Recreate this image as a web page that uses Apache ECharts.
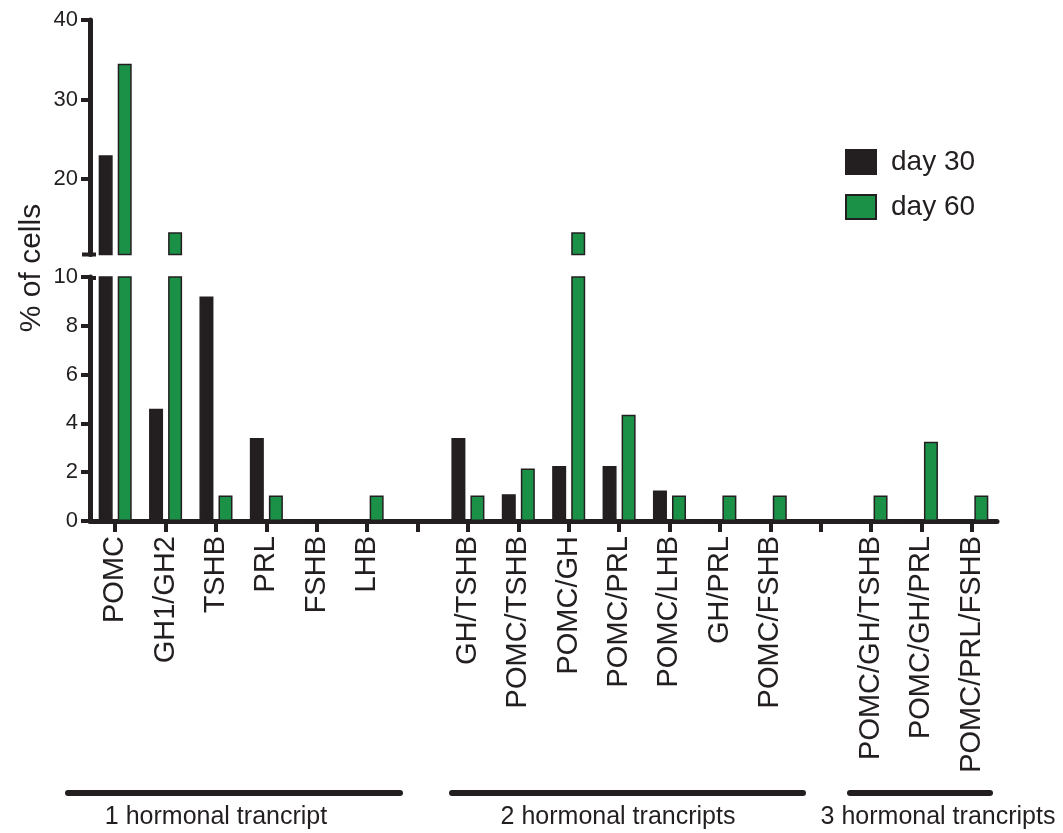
<!DOCTYPE html>
<html>
<head>
<meta charset="utf-8">
<script src="https://cdn.jsdelivr.net/npm/echarts@6/dist/echarts.min.js"></script>
<style>
html,body{margin:0;padding:0;background:#fff;}
#chart{width:1063px;height:833px;}
</style>
</head>
<body>
<div id="chart"></div>
<script>
const categories = ['POMC','GH1/GH2','TSHB','PRL','FSHB','LHB','','GH/TSHB','POMC/TSHB','POMC/GH','POMC/PRL','POMC/LHB','GH/PRL','POMC/FSHB','','POMC/GH/TSHB','POMC/GH/PRL','POMC/PRL/FSHB'];
const day30 = [23.0, 4.6, 9.2, 3.4, 0, 0, null, 3.4, 1.1, 2.25, 2.25, 1.25, 0, 0, null, 0, 0, 0];
const day60 = [34.5, 13.3, 1.05, 1.05, 0, 1.05, null, 1.05, 2.15, 13.3, 4.35, 1.05, 1.05, 1.05, null, 1.05, 3.25, 1.05];
const upperTicks = [20, 30, 40];
const lowerTicks = [0, 2, 4, 6, 8, 10];
const seriesNames = ['day 30', 'day 60'];
const groupLabels = ['1 hormonal trancript', '2 hormonal trancripts', '3 hormonal trancripts'];
const yTitle = '% of cells';

const INK = '#231f20';
const GREEN = '#1b9148';
const breakLow = 10;      // top of lower segment
const breakHigh = 10.5;   // bottom of upper segment
const upperMax = 40;
const FONT = 'Liberation Sans, Arial, Helvetica, sans-serif';

const chart = echarts.init(document.getElementById('chart'), null, {renderer: 'canvas'});

const barStyle = (c) => ({color: c, borderColor: INK, borderWidth: 1.5});
const yAxisCommon = {
  type: 'value',
  splitLine: {show: false},
  axisLine: {show: true, lineStyle: {color: INK, width: 5}},
  axisTick: {show: true, length: 9, lineStyle: {color: INK, width: 4}},
  axisLabel: {color: INK, fontSize: 22, fontFamily: FONT, margin: 12}
};

const upperOnly = (arr) => arr.map(v => (v != null && v > breakHigh) ? v : null);

const option = {
  animation: false,
  backgroundColor: '#fff',
  grid: [
    {left: 90, right: 66, top: 20, height: 234.5, outerBoundsMode: 'none', containLabel: false},
    {left: 90, right: 66, top: 277, height: 244, outerBoundsMode: 'none', containLabel: false}
  ],
  xAxis: [
    {type: 'category', gridIndex: 0, data: categories, show: false, boundaryGap: true},
    {type: 'category', gridIndex: 1, data: categories, boundaryGap: true,
      axisLine: {show: true, lineStyle: {color: INK, width: 5}},
      axisTick: {show: true, alignWithLabel: true, interval: 0, length: 11, lineStyle: {color: INK, width: 4}},
      axisLabel: {interval: 0, rotate: 90, color: INK, fontSize: 29, margin: 15, fontFamily: FONT}
    }
  ],
  yAxis: [
    Object.assign({}, yAxisCommon, {gridIndex: 0, min: breakHigh, max: upperMax,
      axisTick: Object.assign({}, yAxisCommon.axisTick, {customValues: upperTicks}),
      axisLabel: Object.assign({}, yAxisCommon.axisLabel, {customValues: upperTicks})}),
    Object.assign({}, yAxisCommon, {gridIndex: 1, min: lowerTicks[0], max: breakLow, interval: 2})
  ],
  legend: {
    orient: 'vertical', left: 845, top: 148, padding: 0, itemWidth: 30, itemHeight: 24, itemGap: 17,
    data: seriesNames.map(n => ({name: n, icon: 'rect'})),
    textStyle: {color: INK, fontSize: 28, fontFamily: FONT, padding: [0, 0, 0, 10]}
  },
  series: [
    {name: seriesNames[0], type: 'bar', xAxisIndex: 1, yAxisIndex: 1, data: day30, barWidth: 14, barGap: '36%', itemStyle: barStyle(INK), z: 1},
    {name: seriesNames[1], type: 'bar', xAxisIndex: 1, yAxisIndex: 1, data: day60, barWidth: 14, barGap: '36%', itemStyle: barStyle(GREEN), z: 1},
    {name: seriesNames[0], type: 'bar', xAxisIndex: 0, yAxisIndex: 0, data: upperOnly(day30), barWidth: 14, barGap: '36%', itemStyle: barStyle(INK), z: 1},
    {name: seriesNames[1], type: 'bar', xAxisIndex: 0, yAxisIndex: 0, data: upperOnly(day60), barWidth: 14, barGap: '36%', itemStyle: barStyle(GREEN), z: 1}
  ]
};
chart.setOption(option);

// decorations: break caps, y title, group brackets
const yCapUpper = chart.convertToPixel({yAxisIndex: 0}, breakHigh);
const yCapLower = chart.convertToPixel({yAxisIndex: 1}, breakLow);
const gx0 = 90;
const groupSpans = [[68, 400, 216], [452, 803, 618], [850, 990, 938]];
const graphics = [
  {type: 'line', shape: {x1: gx0 - 8, y1: yCapUpper, x2: gx0 + 6, y2: yCapUpper}, style: {stroke: INK, lineWidth: 4}, z: 10},
  {type: 'line', shape: {x1: gx0 - 2, y1: yCapLower + 1, x2: gx0 + 6, y2: yCapLower + 1}, style: {stroke: INK, lineWidth: 4}, z: 10},
  {type: 'text', x: 32, y: 268, rotation: Math.PI / 2,
    style: {text: yTitle, fill: INK, font: '30px ' + FONT, textAlign: 'center', textVerticalAlign: 'middle'}}
];
groupSpans.forEach((s, i) => {
  graphics.push({type: 'line', shape: {x1: s[0], y1: 793, x2: s[1], y2: 793}, style: {stroke: INK, lineWidth: 6, lineCap: 'round'}});
  graphics.push({type: 'text', x: s[2], y: 817,
    style: {text: groupLabels[i], fill: INK, font: '25px ' + FONT, textAlign: 'center', textVerticalAlign: 'middle'}});
});
chart.setOption({graphic: graphics});
</script>
</body>
</html>
